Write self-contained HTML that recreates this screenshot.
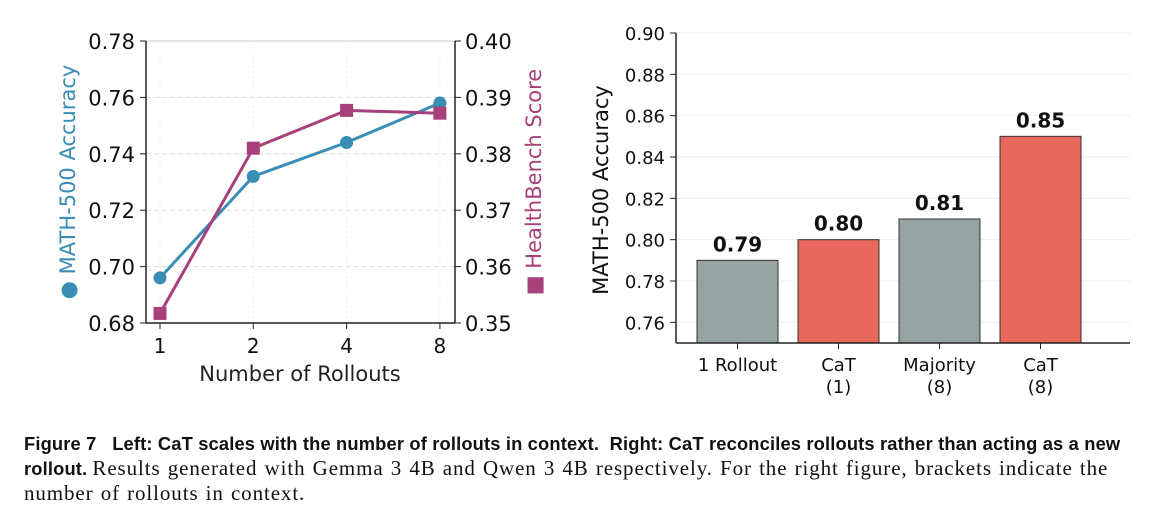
<!DOCTYPE html>
<html><head><meta charset="utf-8"><style>
body{margin:0;background:#fff;width:1150px;height:525px;overflow:hidden;font-family:"Liberation Sans",sans-serif}
svg{position:absolute;left:0;top:0}
#cap{position:absolute;left:24px;top:432px;width:1120px;font-size:18.3px;line-height:24px;color:#111;white-space:nowrap}
#cap b{font-family:"Liberation Sans",sans-serif;letter-spacing:0.17px}
#cap span.s{font-family:"Liberation Serif",serif;font-size:21px;letter-spacing:0.9px;word-spacing:1px}
</style></head><body>
<svg id="c" width="1150" height="425" font-family="DejaVu Sans, Liberation Sans, sans-serif"></svg>
<div id="cap"><b>Figure 7&nbsp;&nbsp; Left: CaT scales with the number of rollouts in context. &nbsp;Right: CaT reconciles rollouts rather than acting as a new</b><br><b>rollout.</b> <span class="s">Results generated with Gemma 3 4B and Qwen 3 4B respectively. For the right figure, brackets indicate the</span><br><span class="s">number of rollouts in context.</span></div>
<script>
const xCats=["1","2","4","8"];
const mathVals=[0.696,0.732,0.744,0.758];
const hbVals=[0.3517,0.381,0.3877,0.3872];
const leftTicks=[0.68,0.70,0.72,0.74,0.76,0.78];
const rightTicks=[0.35,0.36,0.37,0.38,0.39,0.40];
const barCats=[["1 Rollout"],["CaT","(1)"],["Majority","(8)"],["CaT","(8)"]];
const barVals=[0.79,0.80,0.81,0.85];
const barLabels=["0.79","0.80","0.81","0.85"];
const barTicks=[0.76,0.78,0.80,0.82,0.84,0.86,0.88,0.90];
const barColors=["#95a3a3","#e8685e","#95a3a3","#e8685e"];
const svg=document.getElementById('c');const NS="http://www.w3.org/2000/svg";
function mk(t,a,txt){const e=document.createElementNS(NS,t);for(const k in a)e.setAttribute(k,a[k]);if(txt!=null)e.textContent=txt;svg.appendChild(e);return e;}
const BLUE="#3a8db5",PUR="#a8407a";
const L=146,R=455,T=41,B=323;
const yL=v=>B-(v-0.68)/0.10*(B-T);
const yR=v=>B-(v-0.35)/0.05*(B-T);
const xL=i=>160+i*93.3;
leftTicks.forEach((v,i)=>{const y=yL(v);
 if(i>0&&i<leftTicks.length-1){let g=mk('line',{x1:L,x2:R,y1:y,y2:y,stroke:'#ddd','stroke-dasharray':'5,3'});}
 mk('line',{x1:L-6,x2:L,y1:y,y2:y,stroke:'#222'});
 let l=mk('text',{x:L-11,y:y+8,'text-anchor':'end','font-size':21,fill:'#111'},v.toFixed(2));});
mk('line',{x1:L,x2:R,y1:T,y2:T,stroke:'#ccc'});
rightTicks.forEach(v=>{const y=yR(v);mk('line',{x1:R,x2:R+6,y1:y,y2:y,stroke:'#222'});
 let l=mk('text',{x:R+10,y:y+8,'font-size':21,fill:'#111'},v.toFixed(2));});
xCats.forEach((c,i)=>{const x=xL(i);mk('line',{x1:x,x2:x,y1:T,y2:B,stroke:'#eee','stroke-dasharray':'2,3'});mk('line',{x1:x,x2:x,y1:B,y2:B+6,stroke:'#222'});
 let l=mk('text',{x:x,y:B+30,'text-anchor':'middle','font-size':20,fill:'#111'},c);});
mk('line',{x1:L,x2:L,y1:T,y2:B,stroke:'#222','stroke-width':1.5});
mk('line',{x1:R,x2:R,y1:T,y2:B,stroke:'#222','stroke-width':1.5});
mk('line',{x1:L,x2:R,y1:B,y2:B,stroke:'#222','stroke-width':1.5});
let p1=mk('polyline',{points:mathVals.map((v,i)=>xL(i)+','+yL(v)).join(' '),fill:'none',stroke:BLUE,'stroke-width':3});

mathVals.forEach((v,i)=>{let c=mk('circle',{cx:xL(i),cy:yL(v),r:6.5,fill:BLUE});});
let p2=mk('polyline',{points:hbVals.map((v,i)=>xL(i)+','+yR(v)).join(' '),fill:'none',stroke:PUR,'stroke-width':3});

hbVals.forEach((v,i)=>{let c=mk('rect',{x:xL(i)-6.5,y:yR(v)-6.5,width:13,height:13,fill:PUR});});
let xt=mk('text',{x:300,y:381,'text-anchor':'middle','font-size':21,fill:'#222'},'Number of Rollouts');
let yt=mk('text',{transform:'translate(75,182) rotate(-90)','text-anchor':'middle','font-size':21,fill:BLUE},'● MATH-500 Accuracy');
let yt2=mk('text',{transform:'translate(541,182) rotate(-90)','text-anchor':'middle','font-size':21,fill:PUR},'■ HealthBench Score');
const L2=676,R2=1130,T2=33,B2=343;
const yB=v=>B2-(v-0.75)/0.15*(B2-T2);
const bx=i=>697+i*101,bw=81;
barTicks.forEach(v=>{const y=yB(v);mk('line',{x1:L2,x2:R2,y1:y,y2:y,stroke:'#eee'});mk('line',{x1:L2-6,x2:L2,y1:y,y2:y,stroke:'#222'});
 let l=mk('text',{x:L2-11,y:y+7,'text-anchor':'end','font-size':18,fill:'#111'},v.toFixed(2));});
barVals.forEach((v,i)=>{let r=mk('rect',{x:bx(i),y:yB(v),width:bw,height:B2-yB(v),fill:barColors[i],stroke:'#333','stroke-width':1});
 let t=mk('text',{x:bx(i)+bw/2,y:yB(v)-9,'text-anchor':'middle','font-size':20,'font-weight':'bold',fill:'#111'},barLabels[i]);
 const cx=bx(i)+bw/2;mk('line',{x1:cx,x2:cx,y1:B2,y2:B2+6,stroke:'#222'});
 barCats[i].forEach((s,j)=>{let l=mk('text',{x:cx,y:B2+28+j*22,'text-anchor':'middle','font-size':18,fill:'#111'},s);});});
mk('line',{x1:L2,x2:L2,y1:T2,y2:B2,stroke:'#222','stroke-width':1.5});
mk('line',{x1:L2,x2:R2,y1:B2,y2:B2,stroke:'#222','stroke-width':1.5});
let yt3=mk('text',{transform:'translate(608,190) rotate(-90)','text-anchor':'middle','font-size':21,fill:'#111'},'MATH-500 Accuracy');
</script>
</body></html>
